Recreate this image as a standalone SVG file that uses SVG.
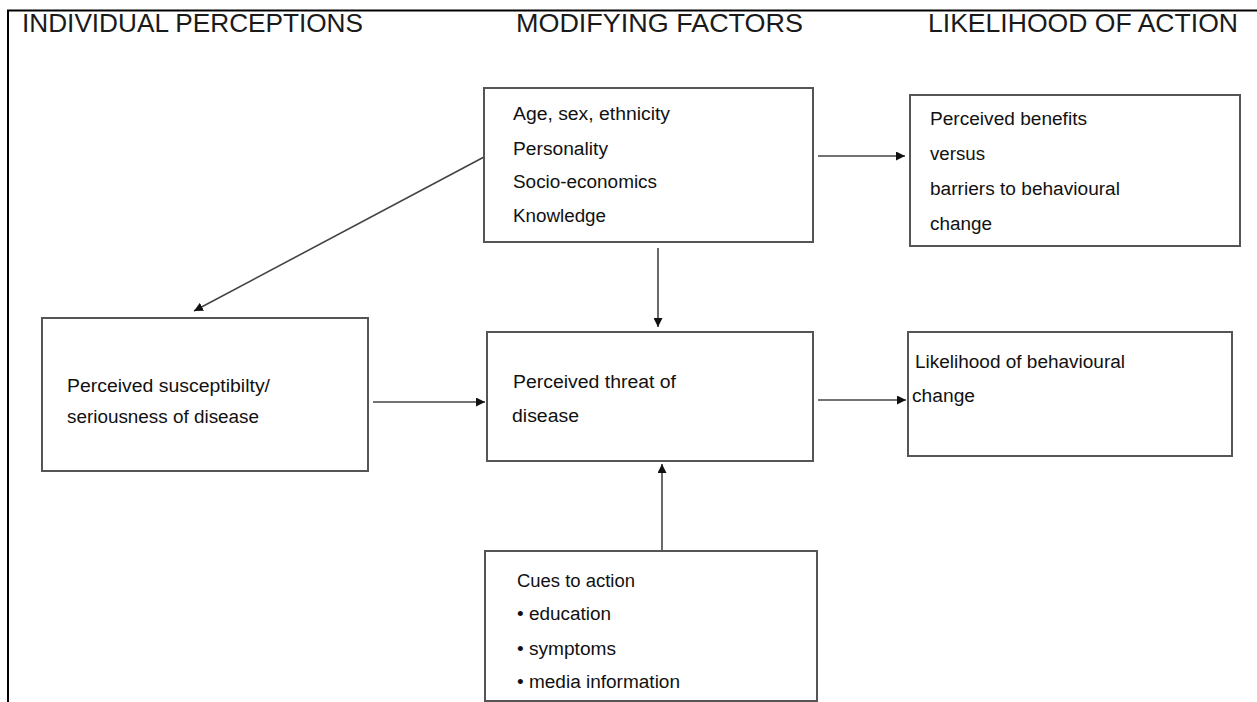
<svg xmlns="http://www.w3.org/2000/svg" width="1257" height="702" viewBox="0 0 1257 702">
<style>
.hdr{font-family:"Liberation Sans",Arial,sans-serif;font-size:25px;fill:#1a1a1a}
.t{font-family:"Liberation Sans",Arial,sans-serif;font-size:18px;fill:#111}
.box{fill:#fff;stroke:#555;stroke-width:2}
.con{stroke:#444;stroke-width:1.6;fill:none;marker-end:url(#ah)}
</style>
<defs>
<marker id="ah" viewBox="0 0 10 10" refX="10" refY="5" markerWidth="9" markerHeight="9" markerUnits="userSpaceOnUse" orient="auto">
<path d="M0,0 L10,5 L0,10 z" fill="#111"/>
</marker>
</defs>
<rect width="1257" height="702" fill="#fff"/>
<g id="frame">
<line x1="7" y1="10.5" x2="1257" y2="10.5" stroke="#000" stroke-width="2"/>
<line x1="8" y1="10" x2="8" y2="702" stroke="#000" stroke-width="2"/>
</g>
<g id="headers">
<text class="hdr" x="22" y="32" textLength="341" lengthAdjust="spacingAndGlyphs">INDIVIDUAL PERCEPTIONS</text>
<text class="hdr" x="516" y="32" textLength="287" lengthAdjust="spacingAndGlyphs">MODIFYING FACTORS</text>
<text class="hdr" x="928" y="32" textLength="310" lengthAdjust="spacingAndGlyphs">LIKELIHOOD OF ACTION</text>
</g>
<g id="connectors">
<line class="con" x1="818" y1="156" x2="905" y2="156"/>
<line class="con" x1="484" y1="157" x2="194" y2="311"/>
<line class="con" x1="658" y1="248" x2="658" y2="327"/>
<line class="con" x1="373" y1="402" x2="485" y2="402"/>
<line class="con" x1="818" y1="400" x2="906" y2="400"/>
<line class="con" x1="662" y1="551" x2="662" y2="464"/>
</g>
<g id="node-modifying">
<rect class="box" x="484" y="88" width="329" height="154"/>
<text class="t" x="513" y="120" textLength="157" lengthAdjust="spacingAndGlyphs">Age, sex, ethnicity</text>
<text class="t" x="513" y="155" textLength="95" lengthAdjust="spacingAndGlyphs">Personality</text>
<text class="t" x="513" y="188" textLength="144" lengthAdjust="spacingAndGlyphs">Socio-economics</text>
<text class="t" x="513" y="222" textLength="93" lengthAdjust="spacingAndGlyphs">Knowledge</text>
</g>
<g id="node-benefits">
<rect class="box" x="910" y="95" width="330" height="151"/>
<text class="t" x="930" y="125" textLength="157" lengthAdjust="spacingAndGlyphs">Perceived benefits</text>
<text class="t" x="930" y="160" textLength="55" lengthAdjust="spacingAndGlyphs">versus</text>
<text class="t" x="930" y="195" textLength="190" lengthAdjust="spacingAndGlyphs">barriers to behavioural</text>
<text class="t" x="930" y="230" textLength="62" lengthAdjust="spacingAndGlyphs">change</text>
</g>
<g id="node-susceptibility">
<rect class="box" x="42" y="318" width="326" height="153"/>
<text class="t" x="67" y="392" textLength="203" lengthAdjust="spacingAndGlyphs">Perceived susceptibilty/</text>
<text class="t" x="67" y="423" textLength="192" lengthAdjust="spacingAndGlyphs">seriousness of disease</text>
</g>
<g id="node-threat">
<rect class="box" x="487" y="332" width="326" height="129"/>
<text class="t" x="513" y="388" textLength="163" lengthAdjust="spacingAndGlyphs">Perceived threat of</text>
<text class="t" x="512" y="422" textLength="67" lengthAdjust="spacingAndGlyphs">disease</text>
</g>
<g id="node-likelihood">
<rect class="box" x="908" y="332" width="324" height="124"/>
<text class="t" x="915" y="368" textLength="210" lengthAdjust="spacingAndGlyphs">Likelihood of behavioural</text>
<text class="t" x="912" y="402" textLength="63" lengthAdjust="spacingAndGlyphs">change</text>
</g>
<g id="node-cues">
<rect class="box" x="485" y="551" width="332" height="150"/>
<text class="t" x="517" y="587" textLength="118" lengthAdjust="spacingAndGlyphs">Cues to action</text>
<text class="t" x="517" y="620" textLength="94" lengthAdjust="spacingAndGlyphs">• education</text>
<text class="t" x="517" y="655" textLength="99" lengthAdjust="spacingAndGlyphs">• symptoms</text>
<text class="t" x="517" y="688" textLength="163" lengthAdjust="spacingAndGlyphs">• media information</text>
</g>
</svg>
